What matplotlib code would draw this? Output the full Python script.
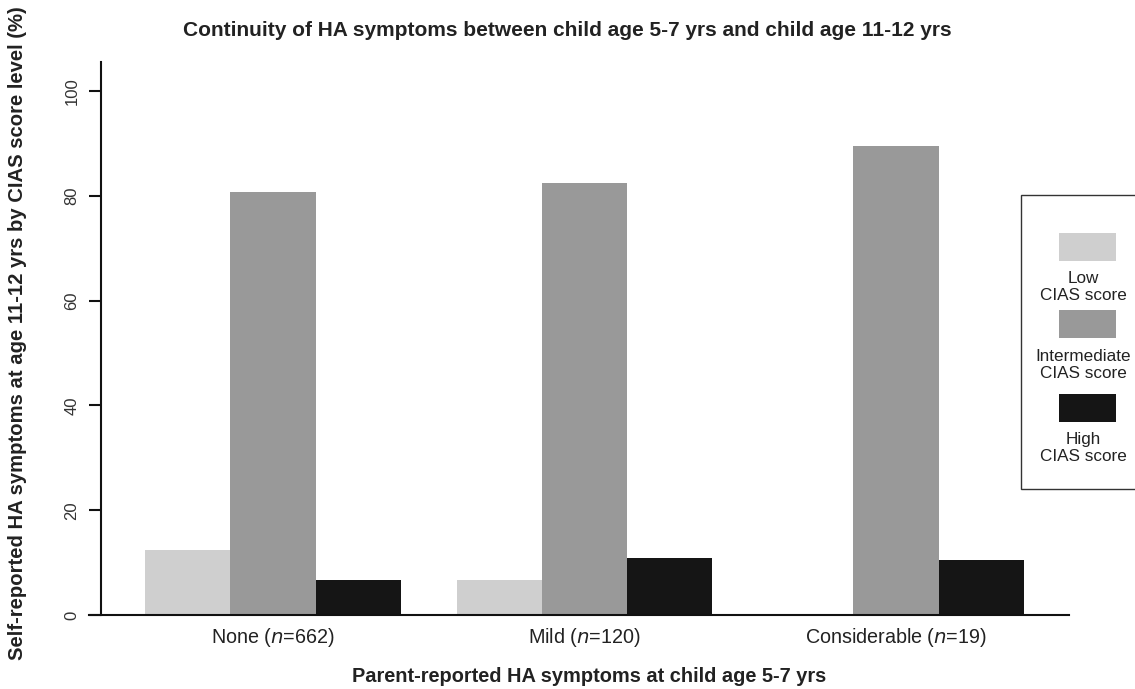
import matplotlib
matplotlib.use("Agg")
import matplotlib.pyplot as plt
from matplotlib.patches import Rectangle

plt.rcParams['font.family'] = ['Liberation Sans', 'DejaVu Sans']

# ---- data ----
groups = ["None ($\\it{n}$=662)", "Mild ($\\it{n}$=120)", "Considerable ($\\it{n}$=19)"]
levels = ["Low\nCIAS score", "Intermediate\nCIAS score", "High\nCIAS score"]
low_vals = [12.5, 6.7, 0.0]
inter_vals = [80.8, 82.5, 89.5]
high_vals = [6.6, 10.8, 10.5]
yticks = [0, 20, 40, 60, 80, 100]

colors = ['#cfcfcf', '#999999', '#151515']
txt = '#222222'

W, H = 1135, 689
fig = plt.figure(figsize=(W / 100, H / 100), dpi=100)

def fx(px):
    return px / W

def fy(py):
    return 1 - py / H

ax = fig.add_axes([fx(89), fy(615), fx(1069 - 89), (615 - 62) / H])

unit = 85.3
start0 = (145 - 101) / unit
gstep = 311.5 / unit
series = [low_vals, inter_vals, high_vals]
for j, vals in enumerate(series):
    xs = [start0 + i * gstep + j for i in range(len(groups))]
    ax.bar(xs, vals, width=1.0, align='edge', color=colors[j], edgecolor='none', zorder=2)

ax.set_xlim(-12 / unit, (1069 - 101) / unit)
ax.set_ylim(0, (615 - 62) / 5.24)

for s in ['top', 'right']:
    ax.spines[s].set_visible(False)
ax.spines['left'].set_position(('data', 0))
ax.spines['left'].set_linewidth(1.5)
ax.spines['bottom'].set_linewidth(1.5)
for s in ['left', 'bottom']:
    ax.spines[s].set_color('#111111')
    ax.spines[s].set_zorder(3)

ax.set_yticks(yticks)
ax.set_yticklabels([str(v) for v in yticks], rotation=90, va='center', fontsize=12, color='#333333')
ax.tick_params(axis='y', length=8.6, width=1.5, pad=7, color='#111111')

centers = [start0 + i * gstep + 1.5 for i in range(len(groups))]
ax.set_xticks(centers)
ax.set_xticklabels(groups, fontsize=14.2, color=txt)
ax.tick_params(axis='x', length=0, pad=8)

fig.text(fx(18), fy(333), "Self-reported HA symptoms at age 11-12 yrs by CIAS score level (%)",
         rotation=90, ha='center', va='center', fontsize=14.6, fontweight='bold', color=txt)

fig.text(fx(567), fy(30), "Continuity of HA symptoms between child age 5-7 yrs and child age 11-12 yrs",
         ha='center', va='center', fontsize=15, fontweight='bold', color=txt)
fig.text(fx(589), fy(677), "Parent-reported HA symptoms at child age 5-7 yrs",
         ha='center', va='center', fontsize=14.4, fontweight='bold', color=txt)

# ---- legend (manual, labels below swatches) ----
fig.patches.append(Rectangle((fx(1021), fy(489)), fx(1150 - 1021), (489 - 195) / H,
                             transform=fig.transFigure, facecolor='white',
                             edgecolor='#333333', linewidth=1.0, zorder=5))
sw_tops = [233, 310, 394]
lab_y = [287, 365, 448]
for k in range(3):
    fig.patches.append(Rectangle((fx(1059), fy(sw_tops[k] + 28)), fx(57), 28 / H,
                                 transform=fig.transFigure, facecolor=colors[k],
                                 edgecolor='none', zorder=6))
    fig.text(fx(1083), fy(lab_y[k]), levels[k], ha='center', va='center',
             fontsize=12.3, color=txt, linespacing=1.1, zorder=7)

fig.savefig("out.png", dpi=100)
